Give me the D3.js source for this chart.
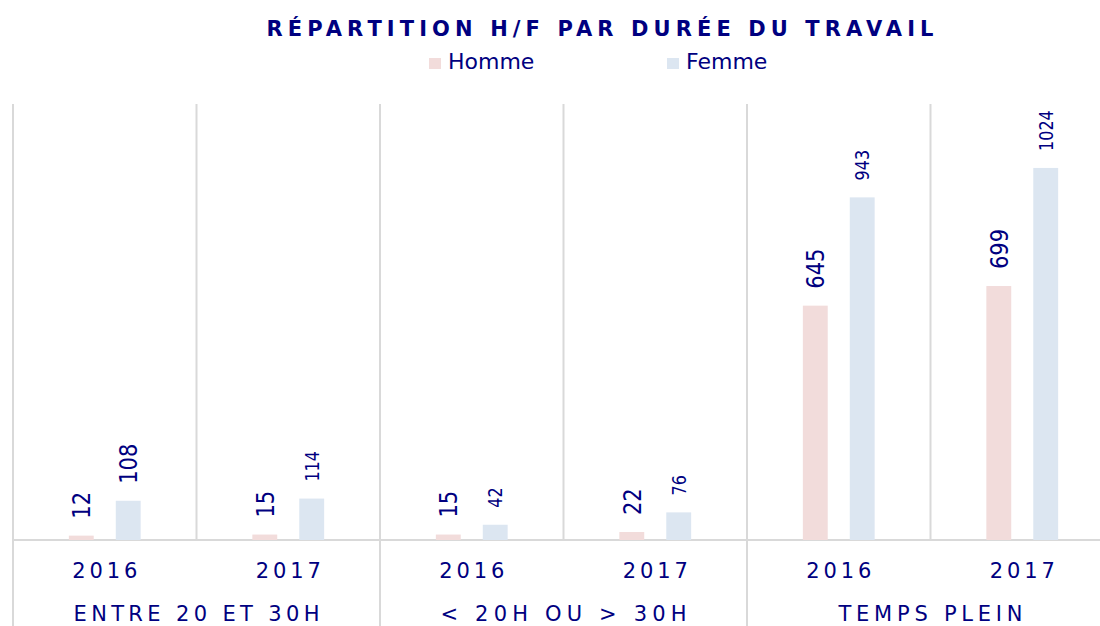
<!DOCTYPE html>
<html>
<head>
<meta charset="utf-8">
<script src="https://cdn.jsdelivr.net/npm/d3@7"></script>
<style>
    body { margin: 0; background: #fff; }
    text { font-family: Verdana, "DejaVu Sans", sans-serif; fill: #000080; }
</style>
</head>
<body>
<div id="chart"></div>
<script>
// data
const groups = ['ENTRE 20 ET 30H', '< 20H OU > 30H', 'TEMPS PLEIN'];
const years = ['2016', '2017'];
const series = ['Homme', 'Femme'];
const hommeValues = [12, 15, 15, 22, 645, 699];
const femmeValues = [108, 114, 42, 76, 943, 1024];
const title = 'RÉPARTITION H/F PAR DURÉE DU TRAVAIL';

class GroupedBarChart {
    constructor(_config) {
        this.config = {
            parentElement: _config.parentElement,
            containerWidth: _config.containerWidth || 1100,
            containerHeight: _config.containerHeight || 626,
            plotLeft: 13,
            slotWidth: 183.5,
            top: 104,
            baseline: 540,
            colors: { Homme: '#f2dcdb', Femme: '#dce6f1' },
            gridColor: '#d9d9d9'
        };
        this.initVis();
    }

    initVis() {
        let vis = this;
        const c = vis.config;

        // one slot per (group, year)
        vis.slots = [];
        groups.forEach((g, gi) => years.forEach((y, yi) => {
            const i = gi * years.length + yi;
            vis.slots.push({ key: g + '|' + y, group: g, year: y, Homme: hommeValues[i], Femme: femmeValues[i] });
        }));

        vis.xScale = d3.scaleBand()
            .domain(vis.slots.map(d => d.key))
            .range([c.plotLeft, c.plotLeft + c.slotWidth * vis.slots.length]);

        vis.xInner = d3.scaleBand()
            .domain(series)
            .range([0, vis.xScale.bandwidth()])
            .paddingInner(0.47)
            .paddingOuter(1.19);

        vis.yScale = d3.scaleLinear().domain([0, 1200]).range([c.baseline, c.top]);

        vis.svg = d3.select(c.parentElement).append('svg')
            .attr('width', c.containerWidth)
            .attr('height', c.containerHeight);

        vis.gridG = vis.svg.append('g').attr('class', 'grid');
        vis.barsG = vis.svg.append('g').attr('class', 'bars');
        vis.labelsG = vis.svg.append('g').attr('class', 'labels');
        vis.axisG = vis.svg.append('g').attr('class', 'axis');
        vis.legendG = vis.svg.append('g').attr('class', 'legend');

        vis.renderVis();
    }

    renderVis() {
        let vis = this;
        const c = vis.config;

        // vertical separators: group borders run down through the label rows
        vis.gridG.selectAll('.sep')
            .data(vis.slots)
            .join('line')
            .attr('class', 'sep')
            .attr('x1', d => vis.xScale(d.key))
            .attr('x2', d => vis.xScale(d.key))
            .attr('y1', c.top)
            .attr('y2', d => d.year === years[0] ? c.containerHeight : c.baseline)
            .attr('stroke', c.gridColor)
            .attr('stroke-width', 2);

        // bars
        const barData = vis.slots.flatMap(s => series.map(k => ({ slot: s, serie: k, value: s[k] })));

        vis.barsG.selectAll('.bar')
            .data(barData)
            .join('rect')
            .attr('class', 'bar')
            .attr('x', d => vis.xScale(d.slot.key) + vis.xInner(d.serie))
            .attr('width', vis.xInner.bandwidth())
            .attr('y', d => vis.yScale(d.value))
            .attr('height', d => vis.yScale(0) - vis.yScale(d.value))
            .attr('fill', d => c.colors[d.serie]);

        // baseline
        vis.gridG.append('line')
            .attr('x1', c.plotLeft).attr('x2', c.containerWidth)
            .attr('y1', c.baseline).attr('y2', c.baseline)
            .attr('stroke', c.gridColor)
            .attr('stroke-width', 2);

        // value labels, rotated
        const bigLabel = d => d.serie === 'Homme' || (d.slot.key === groups[0] + '|2016');
        vis.labelsG.selectAll('.value-label')
            .data(barData)
            .join('text')
            .attr('class', 'value-label')
            .attr('transform', d => {
                const x = vis.xScale(d.slot.key) + vis.xInner(d.serie) + vis.xInner.bandwidth() / 2;
                const y = vis.yScale(d.value) - 17;
                return `translate(${x},${y}) scale(1.2,1) rotate(-90)`;
            })
            .attr('dy', '0.36em')
            .style('font-size', d => bigLabel(d) ? '21px' : '16px')
            .text(d => d.value);

        // year row
        vis.axisG.selectAll('.year-label')
            .data(vis.slots)
            .join('text')
            .attr('class', 'year-label')
            .attr('x', d => vis.xScale(d.key) + vis.xScale.bandwidth() / 2)
            .attr('y', 578)
            .attr('text-anchor', 'middle')
            .attr('textLength', 65)
            .attr('lengthAdjust', 'spacing')
            .style('font-size', '21px')
            .text(d => d.year);

        // group row
        const groupWidth = [246, 246, 184];
        vis.axisG.selectAll('.group-label')
            .data(groups)
            .join('text')
            .attr('class', 'group-label')
            .attr('x', g => vis.xScale(g + '|' + years[0]) + vis.xScale.bandwidth())
            .attr('y', 621)
            .attr('text-anchor', 'middle')
            .attr('textLength', (g, i) => groupWidth[i])
            .attr('lengthAdjust', 'spacing')
            .style('font-size', '21px')
            .text(g => g);

        // title
        vis.svg.append('text')
            .attr('x', 600)
            .attr('y', 36)
            .attr('text-anchor', 'middle')
            .attr('textLength', 667)
            .attr('lengthAdjust', 'spacing')
            .style('font-size', '21px')
            .style('font-weight', 'bold')
            .text(title);

        // legend
        const legendX = { Homme: 429, Femme: 667 };
        const items = vis.legendG.selectAll('.legend-item')
            .data(series)
            .join('g')
            .attr('class', 'legend-item')
            .attr('transform', d => `translate(${legendX[d]},58)`);
        items.append('rect')
            .attr('width', 12).attr('height', 11)
            .attr('fill', d => c.colors[d]);
        items.append('text')
            .attr('x', 19)
            .attr('y', 11)
            .style('font-size', '22px')
            .text(d => d);
    }
}

new GroupedBarChart({ parentElement: '#chart' });
</script>
</body>
</html>
